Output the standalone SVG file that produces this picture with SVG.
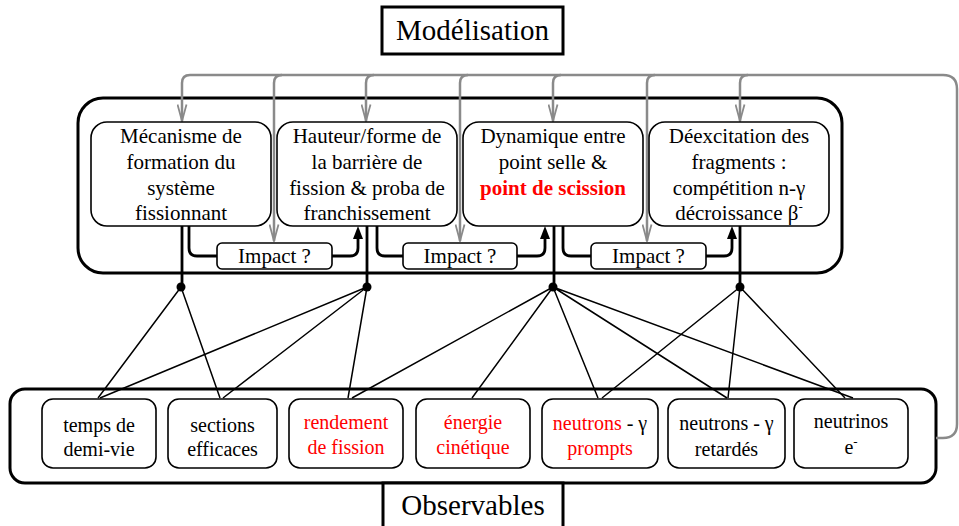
<svg xmlns="http://www.w3.org/2000/svg" width="959" height="526" viewBox="0 0 959 526">
<style>
text{font-family:"Liberation Serif","Times New Roman",serif;fill:#000}
.t{font-size:21px;text-anchor:middle}
.b{font-size:20px;text-anchor:middle}
.big{font-size:29px;text-anchor:middle}
.red{fill:#ff0000}
.box{fill:#fff;stroke:#000;stroke-width:1.6}
.outer{fill:#fff;stroke:#000;stroke-width:3}
.gray{fill:none;stroke:#8a8a8a;stroke-width:2.5}
.blk{fill:none;stroke:#000;stroke-width:2.8}
.thin{fill:none;stroke:#000;stroke-width:1.5}
</style>
<defs>
<marker id="ga" markerUnits="userSpaceOnUse" markerWidth="18" markerHeight="11" viewBox="0 0 18 11" refX="17" refY="5.5" orient="auto">
<path d="M0.5,1 L17,5.5 L0.5,10" fill="none" stroke="#8a8a8a" stroke-width="1.8"/>
</marker>
<marker id="ba" markerUnits="userSpaceOnUse" markerWidth="13" markerHeight="10" viewBox="0 0 13 10" refX="2" refY="5" orient="auto">
<path d="M0,0 L13,5 L0,10 z" fill="#000"/>
</marker>
</defs>

<g id="modelisation-title">
<rect x="382" y="7" width="181" height="47" fill="#fff" stroke="#000" stroke-width="3"/>
<text class="big" x="472.5" y="40">Modélisation</text>
</g>

<g id="modelisation-frame">
<rect class="outer" x="78" y="98" width="764" height="175" rx="25"/>
</g>

<g id="observables-frame">
<rect class="outer" x="10" y="389" width="926" height="94" rx="15"/>
</g>

<g id="observables-title">
<rect x="383" y="483" width="180" height="60" fill="#fff" stroke="#000" stroke-width="3"/>
<text class="big" x="473" y="515">Observables</text>
</g>

<g id="connectors">
<path class="gray" d="M936,438 L943,438 Q957,438 957,424 L957,89 Q957,75 943,75 L190,75 Q182,75 182,83 L182,121" marker-end="url(#ga)"/>
<path class="gray" d="M282,75 Q274,75 274,83 L274,241" marker-end="url(#ga)"/>
<path class="gray" d="M374,75 Q366,75 366,83 L366,121" marker-end="url(#ga)"/>
<path class="gray" d="M468,75 Q460,75 460,83 L460,241" marker-end="url(#ga)"/>
<path class="gray" d="M561,75 Q553,75 553,83 L553,121" marker-end="url(#ga)"/>
<path class="gray" d="M655,75 Q647,75 647,83 L647,241" marker-end="url(#ga)"/>
<path class="gray" d="M748,75 Q740,75 740,83 L740,121" marker-end="url(#ga)"/>

<path class="blk" d="M189,226 L189,248 Q189,256 197,256 L217,256"/>
<path class="blk" d="M332,256 L350,256 Q358,256 358,248 L358,237" marker-end="url(#ba)"/>
<path class="blk" d="M377,226 L377,248 Q377,256 385,256 L403,256"/>
<path class="blk" d="M517,256 L537,256 Q545,256 545,248 L545,237" marker-end="url(#ba)"/>
<path class="blk" d="M563,226 L563,248 Q563,256 571,256 L591,256"/>
<path class="blk" d="M706,256 L724,256 Q732,256 732,248 L732,237" marker-end="url(#ba)"/>

<path class="blk" d="M182,226 L182,287 M367,226 L367,287 M554,226 L554,287 M740,226 L740,287"/>

<path class="thin" d="M181,287 L98,398 M181,287 L220,398"/>
<path class="thin" d="M367,287 L100,398 M367,287 L223,398 M367,287 L348,398"/>
<path class="thin" d="M553,287 L352,398 M553,287 L472,398 M553,287 L598,398 M553,287 L727,398 M553,287 L853,398"/>
<path class="thin" d="M740,287 L602,398 M740,287 L728,398 M740,287 L845,398"/>
<circle cx="181" cy="287" r="4.5"/>
<circle cx="367" cy="287" r="4.5"/>
<circle cx="553" cy="287" r="4.5"/>
<circle cx="740" cy="287" r="4.5"/>
</g>

<g id="mecanisme">
<rect class="box" x="91" y="122" width="180" height="104" rx="16"/>
<text class="t" x="181" y="143">Mécanisme de</text>
<text class="t" x="181" y="169">formation du</text>
<text class="t" x="181" y="195">système</text>
<text class="t" x="181" y="220">fissionnant</text>
</g>
<g id="barriere">
<rect class="box" x="277" y="122" width="180" height="104" rx="16"/>
<text class="t" x="367" y="143">Hauteur/forme de</text>
<text class="t" x="367" y="169">la barrière de</text>
<text class="t" x="367" y="195">fission &amp; proba de</text>
<text class="t" x="367" y="220">franchissement</text>
</g>
<g id="dynamique">
<rect class="box" x="463" y="122" width="180" height="104" rx="16"/>
<text class="t" x="553" y="143">Dynamique entre</text>
<text class="t" x="553" y="169">point selle &amp;</text>
<text class="t red" x="553" y="195" font-weight="bold">point de scission</text>
</g>
<g id="deexcitation">
<rect class="box" x="649" y="122" width="180" height="104" rx="16"/>
<text class="t" x="739" y="143">Déexcitation des</text>
<text class="t" x="739" y="169">fragments :</text>
<text class="t" x="739" y="195">compétition n-γ</text>
<text class="t" x="739" y="220">décroissance β<tspan font-size="13" dy="-9">-</tspan></text>
</g>

<g id="impact1">
<rect class="box" x="217" y="243" width="115" height="26" rx="5"/>
<text class="t" x="274.5" y="263">Impact ?</text>
</g>
<g id="impact2">
<rect class="box" x="403" y="243" width="114" height="26" rx="5"/>
<text class="t" x="460" y="263">Impact ?</text>
</g>
<g id="impact3">
<rect class="box" x="591" y="243" width="115" height="26" rx="5"/>
<text class="t" x="648.5" y="263">Impact ?</text>
</g>

<g id="temps">
<rect class="box" x="42" y="399" width="114" height="69" rx="11"/>
<text class="b" x="99" y="432">temps de</text>
<text class="b" x="99" y="456">demi-vie</text>
</g>
<g id="sections">
<rect class="box" x="168" y="399" width="109" height="69" rx="11"/>
<text class="b" x="222.5" y="432">sections</text>
<text class="b" x="222.5" y="456">efficaces</text>
</g>
<g id="rendement">
<rect class="box" x="289" y="399" width="114" height="69" rx="11"/>
<text class="b red" x="346" y="429">rendement</text>
<text class="b red" x="346" y="454">de fission</text>
</g>
<g id="energie">
<rect class="box" x="416" y="399" width="114" height="69" rx="11"/>
<text class="b red" x="473" y="429">énergie</text>
<text class="b red" x="473" y="454">cinétique</text>
</g>
<g id="prompts">
<rect class="box" x="542" y="399" width="116" height="69" rx="11"/>
<text class="b" x="600" y="430"><tspan class="red">neutrons</tspan> - γ</text>
<text class="b red" x="600" y="455">prompts</text>
</g>
<g id="retardes">
<rect class="box" x="668" y="399" width="117" height="69" rx="11"/>
<text class="b" x="726.5" y="430">neutrons - γ</text>
<text class="b" x="726.5" y="456">retardés</text>
</g>
<g id="neutrinos">
<rect class="box" x="794" y="399" width="114" height="69" rx="11"/>
<text class="b" x="851" y="428">neutrinos</text>
<text class="b" x="851" y="454">e<tspan font-size="13" dy="-8">-</tspan></text>
</g>
</svg>
